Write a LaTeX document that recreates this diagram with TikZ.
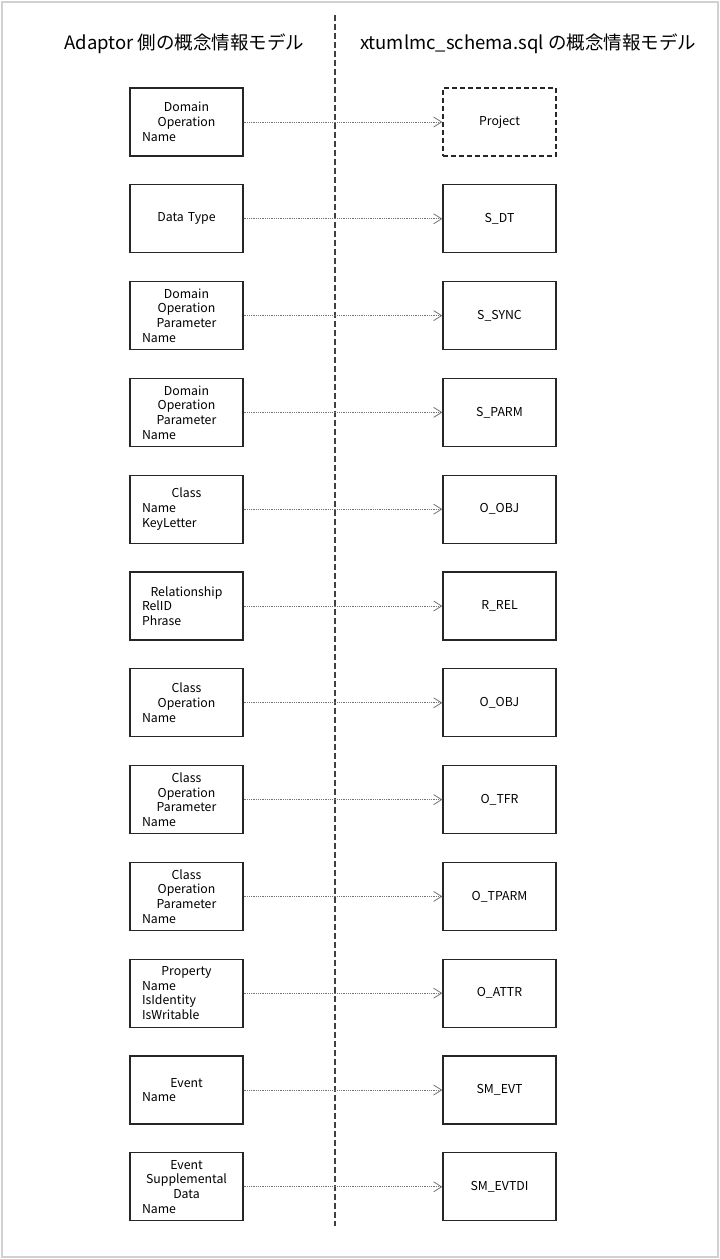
\documentclass[tikz,border=0pt]{standalone}
\usepackage{fontspec}
\setmainfont{Noto Sans CJK JP}
\usetikzlibrary{arrows.meta,positioning}
\newcommand\attr[1]{\makebox[89pt][l]{#1}}

\begin{document}
\begin{tikzpicture}[x=1pt,y=-1pt,node distance=96.8pt,
  >={Straight Barb[length=8pt,width=10pt]}]
  \tikzstyle{every node}=[font=\fontsize{12.3}{14.7}\selectfont]
  \tikzstyle{model}=[draw=black!85,line width=1.3pt,minimum width=113pt,
    minimum height=68pt,inner sep=0pt,align=center,text width=89pt]
  \tikzstyle{table}=[model,text width=105pt]
  \tikzstyle{map}=[->,draw=black!55,line width=0.8pt,dash pattern=on 1pt off 0.8pt]
  \tikzstyle{heading}=[font=\fontsize{18.5}{22}\selectfont]
  \useasboundingbox (0,0) rectangle (720,1259);
  \draw[black!18,line width=1.5pt] (2,2) rectangle (718,1257);

  \node[heading] (adaptor) at (184.5,44) {Adaptor 側の概念情報モデル};
  \node[heading] (schema) at (528,44) {xtumlmc\_schema.sql の概念情報モデル};
  \coordinate (split_top) at (335,15);
  \coordinate (split_bot) at (335,1226);
  \draw[black!75,line width=1.3pt,dash pattern=on 6pt off 3pt] (split_top) -- (split_bot);

  % adaptor side
  \node[model] (dom_op) at (186.5,122) {Domain\\Operation\\\attr{Name}};
  \node[model] (data_type) [below of=dom_op] {Data Type};
  \node[model] (dom_op_parm) [below of=data_type] {Domain\\Operation\\Parameter\\\attr{Name}};
  \node[model] (dom_op_parm_b) [below of=dom_op_parm] {Domain\\Operation\\Parameter\\\attr{Name}};
  \node[model] (cls) [below of=dom_op_parm_b] {Class\\\attr{Name}\\\attr{KeyLetter}};
  \node[model] (rel) [below of=cls] {Relationship\\\attr{RelID}\\\attr{Phrase}};
  \node[model] (cls_op) [below of=rel] {Class\\Operation\\\attr{Name}};
  \node[model] (cls_op_parm) [below of=cls_op] {Class\\Operation\\Parameter\\\attr{Name}};
  \node[model] (cls_op_parm_b) [below of=cls_op_parm] {Class\\Operation\\Parameter\\\attr{Name}};
  \node[model] (prop) [below of=cls_op_parm_b] {Property\\\attr{Name}\\\attr{IsIdentity}\\\attr{IsWritable}};
  \node[model] (evt) [below of=prop] {Event\\\attr{Name}};
  \node[model] (evt_data) [below of=evt] {Event\\Supplemental\\Data\\\attr{Name}};

  % schema side
  \node[table,dash pattern=on 5pt off 3pt] (project) [node distance=313pt,right of=dom_op] {Project};
  \node[table] (s_dt) [node distance=313pt,right of=data_type] {S\_DT};
  \node[table] (s_sync) [node distance=313pt,right of=dom_op_parm] {S\_SYNC};
  \node[table] (s_parm) [node distance=313pt,right of=dom_op_parm_b] {S\_PARM};
  \node[table] (o_obj) [node distance=313pt,right of=cls] {O\_OBJ};
  \node[table] (r_rel) [node distance=313pt,right of=rel] {R\_REL};
  \node[table] (o_obj_b) [node distance=313pt,right of=cls_op] {O\_OBJ};
  \node[table] (o_tfr) [node distance=313pt,right of=cls_op_parm] {O\_TFR};
  \node[table] (o_tparm) [node distance=313pt,right of=cls_op_parm_b] {O\_TPARM};
  \node[table] (o_attr) [node distance=313pt,right of=prop] {O\_ATTR};
  \node[table] (sm_evt) [node distance=313pt,right of=evt] {SM\_EVT};
  \node[table] (sm_evtdi) [node distance=313pt,right of=evt_data] {SM\_EVTDI};

  \path[map]
  (dom_op) edge (project)
  (data_type) edge (s_dt)
  (dom_op_parm) edge (s_sync)
  (dom_op_parm_b) edge (s_parm)
  (cls) edge (o_obj)
  (rel) edge (r_rel)
  (cls_op) edge (o_obj_b)
  (cls_op_parm) edge (o_tfr)
  (cls_op_parm_b) edge (o_tparm)
  (prop) edge (o_attr)
  (evt) edge (sm_evt)
  (evt_data) edge (sm_evtdi)
  ;
\end{tikzpicture}
\end{document}
